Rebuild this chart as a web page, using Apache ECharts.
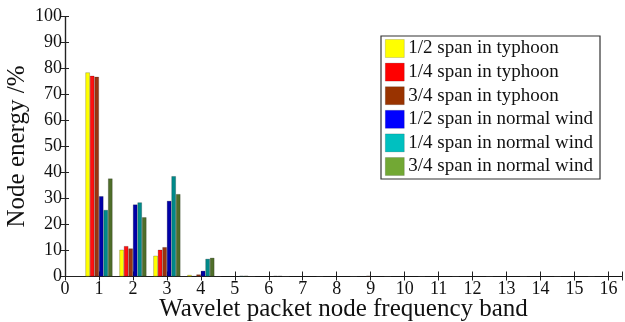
<!DOCTYPE html>
<html>
<head>
<meta charset="utf-8">
<script src="https://cdn.jsdelivr.net/npm/echarts@6/dist/echarts.min.js"></script>
<style>
  html, body { margin: 0; padding: 0; background: #fff; }
  #chart { width: 625px; height: 322px; }
</style>
</head>
<body>
<div id="chart"></div>
<script>
// 频带 1..16
const bands = [1, 2, 3, 4, 5, 6, 7, 8, 9, 10, 11, 12, 13, 14, 15, 16]
const seriesNames = [
    '1/2 span in typhoon', '1/4 span in typhoon', '3/4 span in typhoon',
    '1/2 span in normal wind', '1/4 span in normal wind', '3/4 span in normal wind'
]
const halfTyphoon    = [78.5, 10.3, 8.0, 0.6, 0, 0, 0, 0, 0, 0, 0, 0, 0, 0, 0, 0]
const quarterTyphoon = [77.2, 11.7, 10.3, 0.1, 0, 0, 0, 0, 0, 0, 0, 0, 0, 0, 0, 0]
const threeQTyphoon  = [76.8, 10.8, 11.3, 0.8, 0, 0, 0, 0, 0.3, 0, 0, 0, 0, 0, 0, 0]
const halfNormal     = [30.9, 27.7, 29.1, 2.2, 0, 0, 0, 0, 0, 0, 0, 0, 0, 0, 0, 0]
const quarterNormal  = [25.6, 28.5, 38.6, 6.8, 0.3, 0.2, 0, 0, 0, 0, 0, 0, 0, 0, 0, 0]
const threeQNormal   = [37.7, 22.8, 31.7, 7.2, 0.3, 0.2, 0, 0, 0, 0, 0, 0, 0, 0, 0, 0]
const seriesValues = [halfTyphoon, quarterTyphoon, threeQTyphoon, halfNormal, quarterNormal, threeQNormal]
// 柱子颜色偏暗, 图例颜色偏亮
const barColors = ['#ffff00', '#ff1010', '#9a3510', '#0000a8', '#008a8a', '#4f6e2a']
const legendColors = ['#ffff00', '#ff0000', '#993300', '#0000ff', '#00c0c0', '#72a834']

const font = 'Liberation Serif'
const chart = echarts.init(document.getElementById('chart'))

const plainAxis = {
    axisLine: { show: true, lineStyle: { color: '#222', width: 1.2 } },
    axisTick: { show: true, inside: true, length: 4, lineStyle: { color: '#222' } },
    axisLabel: { show: false },
    splitLine: { show: false }
}

chart.setOption({
    animation: false,
    textStyle: { fontFamily: font },
    grid: { left: 65, top: 16.5, right: 3, bottom: 45.5, outerBoundsMode: 'none', containLabel: false },
    legend: {
        orient: 'vertical',
        left: 381,
        top: 36,
        itemWidth: 19,
        itemHeight: 18,
        itemGap: 4.6,
        padding: [3, 7, 3, 4],
        borderColor: '#333',
        borderWidth: 1.2,
        backgroundColor: '#fff',
        icon: 'rect',
        textStyle: { fontFamily: font, fontSize: 19, color: '#111', padding: [0, 0, 0, -1] },
        data: seriesNames.map((name, idx) => ({
            name,
            itemStyle: { color: legendColors[idx], borderColor: 'rgba(0,0,0,0.25)', borderWidth: 0.6 }
        }))
    },
    xAxis: [{
        type: 'value',
        min: 0,
        max: 16.4,
        interval: 1,
        name: 'Wavelet packet node frequency band',
        nameLocation: 'middle',
        nameGap: 20,
        nameMoveOverlap: false,
        nameTextStyle: { fontFamily: font, fontSize: 25, color: '#111' },
        axisLine: { lineStyle: { color: '#222', width: 1.2 } },
        axisTick: { inside: true, length: 5, lineStyle: { color: '#222' } },
        axisLabel: {
            fontFamily: font, fontSize: 18, color: '#111', margin: 4,
            formatter: v => (Number.isInteger(v) ? String(v) : '')
        },
        splitLine: { show: false }
    }, Object.assign({ type: 'value', position: 'top', min: 0, max: 16.4, interval: 1 }, plainAxis)],
    yAxis: [{
        type: 'value',
        min: 0,
        max: 100,
        interval: 10,
        name: 'Node energy /%',
        nameLocation: 'middle',
        nameGap: 35,
        nameMoveOverlap: false,
        nameTextStyle: { fontFamily: font, fontSize: 25, color: '#111' },
        axisLine: { show: true, lineStyle: { color: '#222', width: 1.2 } },
        axisTick: { show: true, inside: true, length: 4, lineStyle: { color: '#222' } },
        axisLabel: { fontFamily: font, fontSize: 18, color: '#111', margin: 3 },
        splitLine: { show: false }
    }, Object.assign({ type: 'value', position: 'right', min: 0, max: 100, interval: 10 }, plainAxis)],
    series: seriesNames.map((name, idx) => ({
        name,
        type: 'bar',
        xAxisIndex: 0,
        yAxisIndex: 0,
        barGap: '0%',
        barCategoryGap: '20%',
        itemStyle: { color: barColors[idx], borderColor: 'rgba(0,0,0,0.35)', borderWidth: 0.6 },
        data: bands.map((b, i) => [b, seriesValues[idx][i]])
    }))
})
</script>
</body>
</html>
